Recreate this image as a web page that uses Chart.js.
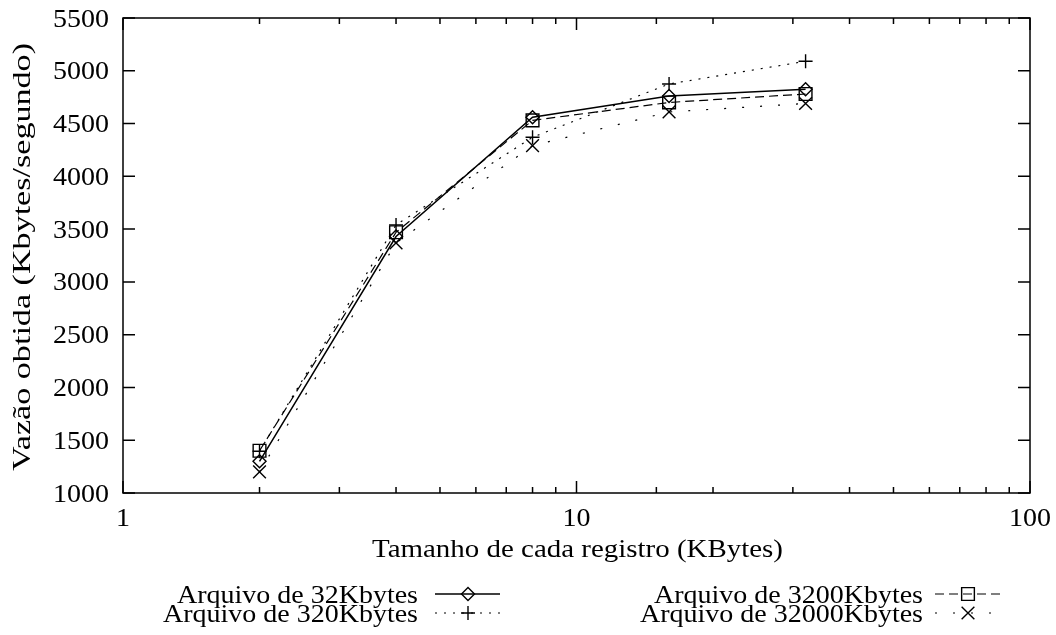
<!DOCTYPE html>
<html>
<head>
<meta charset="utf-8">
<script src="https://cdn.jsdelivr.net/npm/chart.js@4/dist/chart.umd.min.js"></script>
<style>
  html, body { margin: 0; padding: 0; background: #fff; }
  #chart { display: block; }
</style>
</head>
<body>
<canvas id="chart" width="1056" height="635"></canvas>
<script>
'use strict';

// tamanho do registro (KBytes)
var recordSizes = [2, 4, 8, 16, 32];
// vazao (Kbytes/segundo) por tamanho de arquivo
var file32K = [1300, 3430, 4560, 4760, 4825];
var file320K = [1395, 3540, 4370, 4875, 5090];
var file3200K = [1400, 3470, 4530, 4700, 4780];
var file32000K = [1200, 3370, 4290, 4610, 4690];
var seriesNames = ['Arquivo de 32Kbytes', 'Arquivo de 320Kbytes', 'Arquivo de 3200Kbytes', 'Arquivo de 32000Kbytes'];
var yTicks = [1000, 1500, 2000, 2500, 3000, 3500, 4000, 4500, 5000, 5500];
var xTicks = [1, 10, 100];
var xTitle = 'Tamanho de cada registro (KBytes)';
var yTitle = 'Vazão obtida (Kbytes/segundo)';

var FONT = '25px "Liberation Serif"';
var STRETCH = 1.12; // o texto do original e um pouco mais largo

function toPoints(values) {
    var pts = [];
    for (var i = 0; i < recordSizes.length; i++) {
        pts.push({ x: recordSizes[i], y: values[i] });
    }
    return pts;
}

var styles = [
    { dash: [], width: 1.5, point: 'rectRot', radius: 6.5 },
    { dash: [2, 7], width: 1.2, point: 'cross', radius: 7 },
    { dash: [9, 5], width: 1.2, point: 'rect', radius: 9 },
    { dash: [2, 16], width: 1.2, point: 'crossRot', radius: 9 }
];
var allValues = [file32K, file320K, file3200K, file32000K];

var datasets = [];
for (var i = 0; i < allValues.length; i++) {
    datasets.push({
        label: seriesNames[i],
        data: toPoints(allValues[i]),
        borderColor: '#000',
        borderWidth: styles[i].width,
        borderDash: styles[i].dash,
        pointStyle: styles[i].point,
        pointRadius: styles[i].radius,
        pointBorderColor: '#000',
        pointBorderWidth: 1.4,
        pointBackgroundColor: 'rgba(0,0,0,0)',
        fill: false,
        tension: 0
    });
}

// texto esticado na direcao da escrita
function drawText(ctx, text, x, y, align, sx, rotated) {
    ctx.save();
    ctx.translate(x, y);
    if (rotated) ctx.rotate(-Math.PI / 2);
    ctx.scale(sx, 1);
    ctx.font = FONT;
    ctx.fillStyle = '#000';
    ctx.textAlign = align;
    ctx.textBaseline = 'alphabetic';
    ctx.fillText(text, 0, 0);
    ctx.restore();
}

function fitStretch(ctx, text, target) {
    ctx.save();
    ctx.font = FONT;
    var w = ctx.measureText(text).width;
    ctx.restore();
    return target / w;
}

// moldura com marcas para dentro e rotulos, estilo gnuplot
var framePlugin = {
    id: 'frame',
    afterDraw: function (chart) {
        var ctx = chart.ctx;
        var a = chart.chartArea;
        var xs = chart.scales.x;
        var ys = chart.scales.y;
        ctx.save();
        ctx.strokeStyle = '#000';
        ctx.lineWidth = 1.5;
        ctx.setLineDash([]);
        ctx.strokeRect(a.left, a.top, a.right - a.left, a.bottom - a.top);
        ctx.beginPath();
        yTicks.forEach(function (v) {
            var y = ys.getPixelForValue(v);
            ctx.moveTo(a.left, y); ctx.lineTo(a.left + 12, y);
            ctx.moveTo(a.right, y); ctx.lineTo(a.right - 12, y);
        });
        xs.ticks.forEach(function (t) {
            var x = xs.getPixelForValue(t.value);
            var len = xTicks.indexOf(t.value) >= 0 ? 12 : 6;
            ctx.moveTo(x, a.bottom); ctx.lineTo(x, a.bottom - len);
            ctx.moveTo(x, a.top); ctx.lineTo(x, a.top + len);
        });
        ctx.stroke();
        ctx.restore();

        yTicks.forEach(function (v) {
            drawText(ctx, String(v), a.left - 14, ys.getPixelForValue(v) + 8.5, 'right', STRETCH, false);
        });
        xTicks.forEach(function (v) {
            drawText(ctx, String(v), xs.getPixelForValue(v), a.bottom + 33, 'center', STRETCH, false);
        });
        drawText(ctx, xTitle, (a.left + a.right) / 2 + 1, 557, 'center', fitStretch(ctx, xTitle, 411), false);
        drawText(ctx, yTitle, 30, 257, 'center', fitStretch(ctx, yTitle, 428), true);
    }
};

function drawMarker(ctx, style, x, y) {
    if (Chart.helpers && Chart.helpers.drawPoint) {
        Chart.helpers.drawPoint(ctx, { pointStyle: style.point, radius: style.radius, rotation: 0, borderWidth: 1.4 }, x, y);
    }
}

// legenda: texto alinhado a direita, depois amostra da linha
var legendPlugin = {
    id: 'gnuLegend',
    afterDraw: function (chart) {
        var ctx = chart.ctx;
        var spots = [
            { tx: 418, y: 594, l0: 435, l1: 500, m: 468 },
            { tx: 418, y: 613, l0: 435, l1: 500, m: 468 },
            { tx: 923, y: 594, l0: 935, l1: 1003, m: 968 },
            { tx: 923, y: 613, l0: 935, l1: 1003, m: 968 }
        ];
        for (var i = 0; i < spots.length; i++) {
            var s = spots[i];
            drawText(ctx, seriesNames[i], s.tx, s.y + 9, 'right', STRETCH, false);
            ctx.save();
            ctx.strokeStyle = '#000';
            ctx.lineWidth = styles[i].width;
            ctx.setLineDash(styles[i].dash);
            ctx.beginPath();
            ctx.moveTo(s.l0, s.y);
            ctx.lineTo(s.l1, s.y);
            ctx.stroke();
            ctx.setLineDash([]);
            ctx.fillStyle = 'rgba(0,0,0,0)';
            ctx.lineWidth = 1.4;
            drawMarker(ctx, styles[i], s.m, s.y);
            ctx.restore();
        }
    }
};

var ctx = document.getElementById('chart').getContext('2d');
var chart = new Chart(ctx, {
    type: 'line',
    data: { datasets: datasets },
    options: {
        responsive: false,
        animation: false,
        devicePixelRatio: 1,
        layout: { padding: { left: 0, right: 26, top: 18, bottom: 0 } },
        plugins: {
            legend: { display: false },
            tooltip: { enabled: false }
        },
        scales: {
            x: {
                type: 'logarithmic',
                min: 1,
                max: 100,
                grid: { display: false, drawTicks: false },
                border: { display: false },
                ticks: { display: false, autoSkip: false },
                afterFit: function (scale) { scale.height = 142; }
            },
            y: {
                type: 'linear',
                min: 1000,
                max: 5500,
                grid: { display: false, drawTicks: false },
                border: { display: false },
                afterBuildTicks: function (scale) {
                    scale.ticks = yTicks.map(function (v) { return { value: v }; });
                },
                ticks: { display: false },
                afterFit: function (scale) { scale.width = 123; }
            }
        }
    },
    plugins: [framePlugin, legendPlugin]
});
</script>
</body>
</html>
